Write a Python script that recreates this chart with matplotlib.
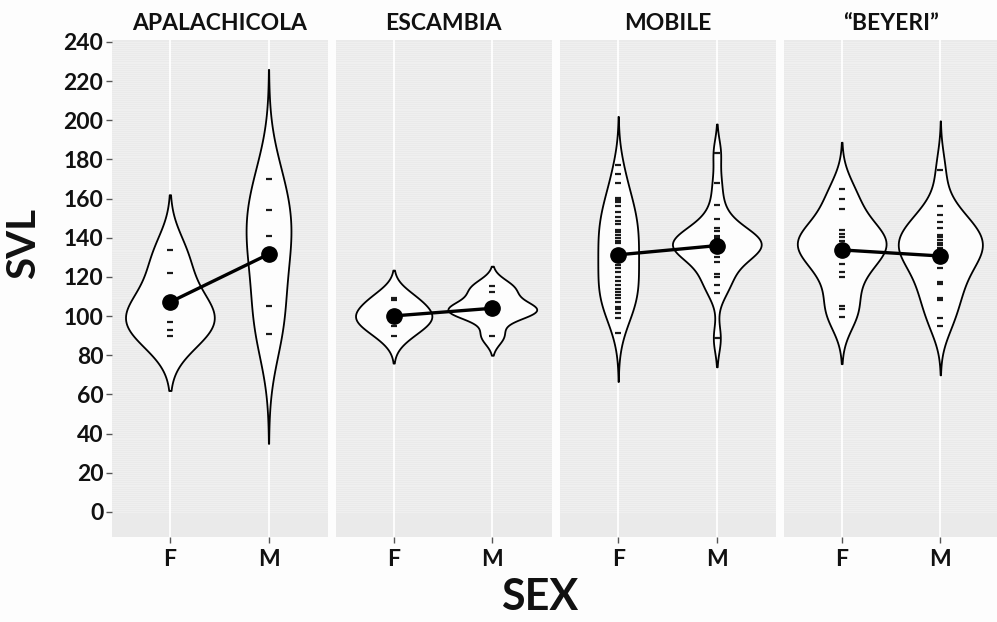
import numpy as np
import matplotlib.pyplot as plt

# SVL values read off the rug dashes (a few hidden under the mean dot are estimated)
sites = ["APALACHICOLA", "ESCAMBIA", "MOBILE", "\u201cBEYERI\u201d"]
sexes = ["F", "M"]

apal_f = [134, 122, 106, 104, 97, 93, 90]
apal_m = [170, 154, 141, 131, 105, 91]
esca_f = [109.5, 108, 101, 100, 99, 95, 90]
esca_m = [115.5, 112.5, 104.5, 103.5, 102.5, 101.5, 90]
mobi_f = [177, 172.5, 168, 160.5, 159.3, 158.2, 156, 153.4, 150.8, 148.8, 147.1,
          144, 142.7, 141.3, 139.8, 138.6, 137.2, 134, 131, 129, 128, 126.1, 124.4,
          122.4, 120.2, 118, 115.9, 113.7, 112.5, 110.8, 109.1, 107.4, 104.9,
          103.5, 101.8, 99.2, 91.6]
mobi_m = [183.5, 168, 156.8, 149.5, 145, 143.7, 141, 140, 139, 138, 137.5, 137,
          136, 135, 134, 133, 132.1, 130, 127.8, 121.4, 120.2, 116, 111.7, 88.7]
beye_f = [164.8, 159.7, 154.6, 144, 142, 140.3, 138.6, 137, 136, 135, 134,
          126.5, 122.7, 120, 105.2, 103.5, 99.7]
beye_m = [174.7, 156, 151.7, 148.3, 145, 141.5, 140.3, 138.9, 137.5, 136.2,
          134.8, 131, 129, 128, 124.4, 117.6, 116.4, 109.4, 108, 99, 95]

groups = [(apal_f, apal_m), (esca_f, esca_m), (mobi_f, mobi_m), (beye_f, beye_m)]

# group means (big dots)
means_f = [107.1, 100.1, 131.3, 133.8]
means_m = [131.6, 104.0, 136.0, 130.7]

# kernel bandwidth and tail length beyond the data for each violin (F, M)
bandwidths = [(12, 20), (6, 4.5), (11, 7), (10, 10)]
tails = [(28, 56), (14, 10), (25, 14.6), (24, 25)]


def density(vals, bw, tail):
    v = np.asarray(vals, float)
    y = np.linspace(v.min() - tail, v.max() + tail, 512)
    d = np.exp(-0.5 * ((y[:, None] - v[None, :]) / bw) ** 2).sum(1)
    d = d / (len(v) * bw * np.sqrt(2 * np.pi))
    return y, d


plt.rcParams['font.family'] = ['Lato', 'DejaVu Sans']
plt.rcParams['font.weight'] = 'bold'

fig = plt.figure(figsize=(9.97, 6.22), dpi=100, facecolor='#fdfdfd')
lefts = [111.7, 335.5, 560, 783.5]
W, H = 997.0, 622.0
bottom = (H - 537) / H
height = (537 - 40) / H
pw = 216 / W

for i, site in enumerate(sites):
    ax = fig.add_axes([lefts[i] / W, bottom, pw, height])
    ax.set_facecolor('#eaeaea')
    ax.set_xlim(0.41, 2.6)
    ax.set_ylim(-12.8, 241)
    # fine horizontal texture of the panel
    for yy in np.arange(0, 241, 1.0):
        ax.axhline(yy, color='#f3f3f3', lw=0.45, zorder=0)
    for xx in (1, 2):
        ax.axvline(xx, color='white', lw=1.3, zorder=1)

    curves = [density(groups[i][k], bandwidths[i][k], tails[i][k]) for k in range(2)]
    dmax = max(c[1].max() for c in curves)
    for k, (y, d) in enumerate(curves):
        half = d / dmax * 0.45
        ax.fill_betweenx(y, k + 1 - half, k + 1 + half, facecolor='#fdfdfd',
                         edgecolor='black', lw=1.3, zorder=2)
        ax.plot(np.full(len(groups[i][k]), k + 1), groups[i][k], ls='none',
                marker='_', ms=5, mew=1.6, color='#1a1a1a', zorder=3)

    ax.plot([1, 2], [means_f[i], means_m[i]], color='black', lw=2.4, zorder=4)
    ax.plot([1, 2], [means_f[i], means_m[i]], ls='none', marker='o', ms=11,
            color='black', zorder=5)

    ax.set_xticks([1, 2])
    ax.set_xticklabels(sexes)
    ax.set_yticks(np.arange(0, 241, 20))
    ax.tick_params(axis='both', length=4, width=1, color='#555555',
                   labelsize=16.5, labelcolor='#111111', pad=2)
    ax.tick_params(axis='x', pad=5)
    if i > 0:
        ax.set_yticklabels([])
        ax.tick_params(axis='y', length=0)
    for s in ax.spines.values():
        s.set_visible(False)
    ax.set_title(site, fontsize=16.5, fontweight='bold', color='#111111', pad=7)

fig.text(0.0236, 0.608, "SVL", rotation=90, fontsize=29, fontweight='bold',
         ha='center', va='center', color='#111111')
fig.text(0.5416, 0.008, "SEX", fontsize=31, fontweight='bold',
         ha='center', va='bottom', color='#111111')

fig.savefig('out.png', dpi=100, facecolor=fig.get_facecolor())
